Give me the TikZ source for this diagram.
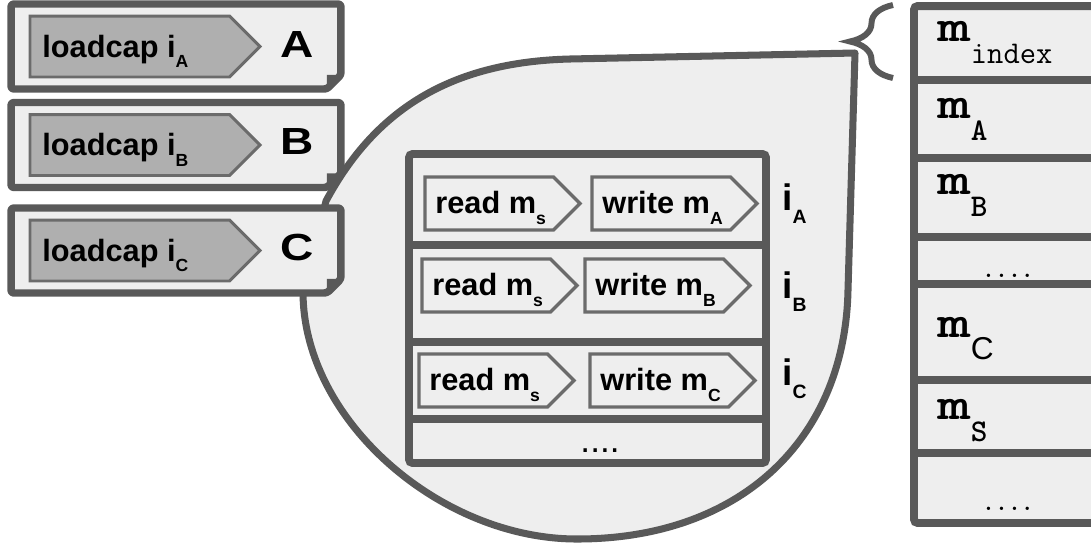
\documentclass[tikz,border=0pt]{standalone}
\usepackage{fontspec}
\setmainfont{Liberation Sans}
\usetikzlibrary{shapes.symbols, decorations.pathreplacing, positioning}

\definecolor{edgegray}{HTML}{595959}
\definecolor{paper}{HTML}{EEEEEE}
\definecolor{capfill}{HTML}{AFAFAF}
\definecolor{tagedge}{HTML}{6B6B6B}

\newcommand{\lowsub}[1]{\raisebox{-6pt}{\fontsize{10}{11}\selectfont #1}}
\newcommand{\isub}[1]{\raisebox{-7.5pt}{\fontsize{11}{12}\selectfont #1}}
\newcommand{\memm}[1]{\scalebox{1.4}[1]{\fontsize{26}{26}\selectfont\ttfamily\bfseries m}\raisebox{-13pt}{\fontsize{18}{18}\selectfont #1}}
\newcommand{\wideletter}[1]{\scalebox{1.22}[1]{#1}}

\tikzset{
    cardbox/.style={rectangle, draw=none, minimum width=66mm, minimum height=17mm,
        inner sep=0pt, outer sep=0pt},
    cardline/.style={draw=edgegray, fill=paper, line width=4.25pt, line join=round, rounded corners=1.5pt},
    dogear/.style={fill=edgegray},
    tag/.style={signal, signal to=east, signal pointer angle=90, draw=tagedge,
        fill=paper, line width=1.9pt, inner sep=0pt, outer sep=0pt, anchor=west},
    captag/.style={tag, fill=capfill, line width=1.7pt, minimum width=46mm, minimum height=12.2mm},
    rdtag/.style={tag, minimum width=31mm, minimum height=10.6mm},
    wrtag/.style={tag, minimum width=33mm, minimum height=10.6mm},
    lbl/.style={inner sep=0pt, anchor=base west, font=\bfseries\fontsize{17.5}{19}\selectfont},
    bigletter/.style={inner sep=0pt, anchor=base west, font=\bfseries\fontsize{21.5}{23}\selectfont},
    ilbl/.style={inner sep=0pt, anchor=base west, font=\bfseries\fontsize{21}{22}\selectfont},
    memlbl/.style={inner sep=0pt, anchor=base west},
    frame/.style={draw=edgegray, fill=paper, line width=4.5pt, rounded corners=2pt, inner sep=0pt, outer sep=0pt},
    rowline/.style={draw=edgegray, line width=5pt},
    bubble/.style={draw=edgegray, fill=paper, line width=4pt, line join=round}
}

\begin{document}
\begin{tikzpicture}[x=0.02cm, y=-0.02cm]
    \useasboundingbox (0,0) rectangle (1091,545);

    % callout bubble
    \draw[bubble] (326,201) .. controls (375,110) and (450,62) .. (570,59) -- (855,53)
        -- (848,290) .. controls (845,440) and (740,539) .. (577,539)
        .. controls (440,539) and (303,420) .. (303,292) -- cycle;

    % cards
    \foreach \nm/\yc/\bl in {A/46.5/57, B/145/154, C/250.5/260} {
        \node[cardbox] (card\nm) at (176,\yc) {};
        \draw[cardline] (card\nm.south west) -- (card\nm.north west) -- (card\nm.north east)
            -- ([shift={(0,-14)}]card\nm.south east) -- ([shift={(-14,0)}]card\nm.south east) -- cycle;
        \fill[dogear] ([shift={(-14,0)}]card\nm.south east) -- ([shift={(-14,-14)}]card\nm.south east)
            -- ([shift={(0,-14)}]card\nm.south east) -- cycle;
        \node[captag] (cap\nm) at (30,\yc) {};
        \node[lbl] (captxt\nm) at ([shift={(12,10.5)}]cap\nm.west) {loadcap i\lowsub{\nm}};
        \node[bigletter] (let\nm) at (280,\bl) {\wideletter{\nm}};
    }

    % instance table
    \node[frame, minimum width=71.4mm, minimum height=61.8mm] (tbl) at (587.5,308.5) {};
    \draw[rowline] (tbl.west |- 0,245) -- (tbl.east |- 0,245);
    \draw[rowline] (tbl.west |- 0,342) -- (tbl.east |- 0,342);
    \draw[rowline] (tbl.west |- 0,419) -- (tbl.east |- 0,419);

    \node[rdtag] (rdA) at (425,203.5) {};
    \node[wrtag] (wrA) at (592,203.5) {};
    \node[rdtag] (rdB) at (422,285.5) {};
    \node[wrtag] (wrB) at (585,285.5) {};
    \node[rdtag] (rdC) at (419,380.5) {};
    \node[wrtag] (wrC) at (590,380.5) {};
    \foreach \nm in {A, B, C} {
        \node[lbl] (rdtxt\nm) at ([shift={(10,10)}]rd\nm.west) {read m\lowsub{s}};
        \node[lbl] (wrtxt\nm) at ([shift={(10,10)}]wr\nm.west) {write m\lowsub{\nm}};
    }
    \node[ilbl] (instA) at (782,210) {i\isub{A}};
    \node[ilbl] (instB) at (782,298) {i\isub{B}};
    \node[ilbl] (instC) at (782,385) {i\isub{C}};
    \node[inner sep=0pt, anchor=base, font=\fontsize{20}{20}\selectfont] (tbldots) at (600,452) {....};

    % memory column
    \node[frame, minimum width=39.2mm, minimum height=103.4mm] (mem) at (1012,264.5) {};
    \foreach \yy in {80, 158, 237, 284, 380, 453}
        \draw[rowline, line width=4.5pt] (mem.west |- 0,\yy) -- (mem.east |- 0,\yy);
    \node[memlbl] (mindex) at (937,41) {\memm{\ttfamily index}};
    \node[memlbl] (mA) at (937,118) {\memm{\ttfamily\bfseries A}};
    \node[memlbl] (mB) at (937,194) {\memm{\ttfamily\bfseries B}};
    \node[memlbl] (mC) at (937,337) {\memm{C}};
    \node[memlbl] (mS) at (937,419) {\memm{\ttfamily\bfseries S}};
    \node[inner sep=0pt, anchor=base, font=\ttfamily\bfseries\fontsize{14}{14}\selectfont] (memdotsA) at (1008,277) {....};
    \node[inner sep=0pt, anchor=base, font=\ttfamily\bfseries\fontsize{14}{14}\selectfont] (memdotsB) at (1008,510) {....};

    % brace
    \draw[draw=edgegray, line width=3.4pt, decorate, decoration={brace, amplitude=8.6mm}]
        (893,78) -- (893,5);
\end{tikzpicture}
\end{document}
